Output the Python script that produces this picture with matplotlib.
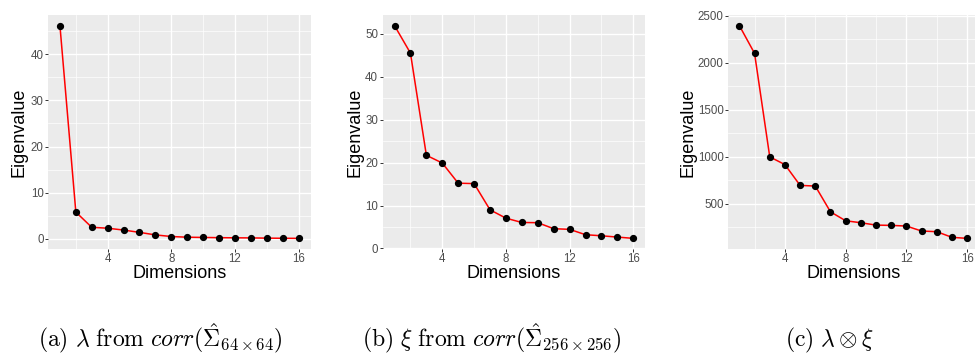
import matplotlib
matplotlib.use("Agg")
import matplotlib.pyplot as plt
from matplotlib.ticker import MultipleLocator

dims = list(range(1, 17))
lam = [46.2, 5.8, 2.5, 2.3, 1.9, 1.4, 0.85, 0.5, 0.35, 0.3, 0.25, 0.22, 0.2, 0.15, 0.12, 0.1]
xi = [51.9, 45.5, 21.7, 19.9, 15.2, 15.1, 9.0, 7.05, 6.05, 6.0, 4.6, 4.45, 3.2, 2.95, 2.65, 2.35]
kron = [2395, 2100, 1000, 918, 697, 690, 416, 321, 300, 275, 272, 265, 212, 205, 145, 134]

captions = [
    r"$\mathrm{(a)}\ \lambda\ \mathrm{from}\ corr(\hat{\Sigma}_{64\times 64})$",
    r"$\mathrm{(b)}\ \xi\ \mathrm{from}\ corr(\hat{\Sigma}_{256\times 256})$",
    r"$\mathrm{(c)}\ \lambda\otimes\xi$",
]

plt.rcParams['font.family'] = ['Liberation Sans', 'DejaVu Sans']
plt.rcParams['mathtext.fontset'] = 'cm'

fig = plt.figure(figsize=(9.75, 3.56), dpi=100)
W, H = 975.0, 356.0

# panel boxes in pixels: left, right
boxes = [(48, 310.5), (382.6, 645.2), (728, 978.5)]
top, bottom = 15, 249
ylab_x = [19, 355, 688]
cap_x = [160, 492, 829]

def style(ax, ymajor):
    ax.set_facecolor('#EBEBEB')
    for s in ax.spines.values():
        s.set_visible(False)
    ax.xaxis.set_major_locator(MultipleLocator(4))
    ax.xaxis.set_minor_locator(MultipleLocator(2))
    ax.yaxis.set_major_locator(MultipleLocator(ymajor))
    ax.yaxis.set_minor_locator(MultipleLocator(ymajor / 2))
    ax.grid(which='major', color='white', linewidth=1.0)
    ax.grid(which='minor', color='white', linewidth=0.5)
    ax.set_axisbelow(True)
    ax.tick_params(which='major', length=2.2, width=0.7, color='#333333',
                   labelcolor='#4D4D4D', labelsize=8.3, pad=1.0)
    ax.tick_params(which='minor', length=0)

series = [lam, xi, kron]
majors = [10, 10, 500]
for i, vals in enumerate(series):
    l, r = boxes[i]
    ax = fig.add_axes([l / W, 1 - bottom / H, (r - l) / W, (bottom - top) / H])
    style(ax, majors[i])
    ax.plot(dims, vals, color='#FF0000', linewidth=1.1, zorder=2)
    ax.plot(dims, vals, 'o', color='black', markersize=4.2, zorder=3)
    rng = max(vals) - min(vals)
    ax.set_ylim(min(vals) - 0.05 * rng, max(vals) + 0.05 * rng)
    ax.set_xlim(0.25, 16.75)
    ax.set_xlabel('Dimensions', fontsize=13, va='top')
    ax.set_ylabel('Eigenvalue', fontsize=13, va='center')
    ax.xaxis.set_label_coords(0.5, (bottom - 265) / (bottom - top))
    ax.yaxis.set_label_coords((ylab_x[i] - l) / (r - l), 0.5)
    fig.text(cap_x[i] / W, 10 / H, captions[i], ha='center', va='baseline', fontsize=17)

fig.savefig('out.png', dpi=100)
